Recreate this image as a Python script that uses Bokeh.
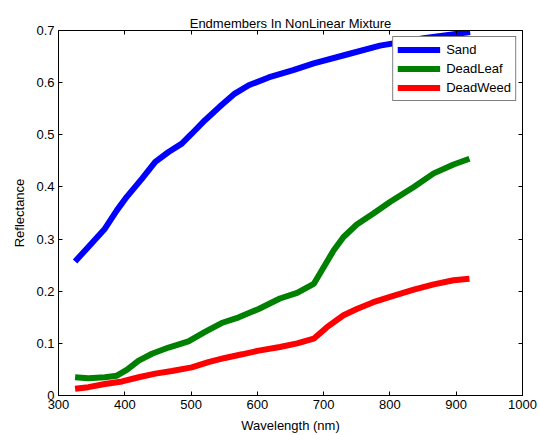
from bokeh.plotting import figure
from bokeh.models import LinearAxis, FixedTicker, Range1d, Legend, LegendItem
from bokeh.embed import file_html
from bokeh.resources import INLINE

# ---- data ----
wl_sand = [325, 345, 370, 388, 403, 426, 446, 466, 486, 501, 521, 546, 566, 587, 617, 654, 685, 735, 785, 851, 921]
sand = [0.257, 0.285, 0.320, 0.355, 0.381, 0.416, 0.448, 0.467, 0.483, 0.502, 0.528, 0.557, 0.579, 0.595, 0.610, 0.624, 0.637, 0.654, 0.671, 0.685, 0.697]

wl_leaf = [325, 345, 370, 388, 403, 421, 441, 466, 496, 521, 546, 572, 602, 634, 660, 685, 700, 715, 730, 750, 775, 800, 836, 866, 896, 920]
leaf = [0.035, 0.033, 0.035, 0.038, 0.049, 0.067, 0.080, 0.092, 0.104, 0.122, 0.139, 0.150, 0.166, 0.186, 0.197, 0.214, 0.246, 0.278, 0.304, 0.328, 0.349, 0.371, 0.400, 0.426, 0.443, 0.454]

wl_weed = [325, 345, 370, 396, 421, 446, 471, 501, 526, 551, 577, 602, 634, 660, 685, 705, 730, 750, 775, 805, 836, 866, 896, 920]
weed = [0.013, 0.016, 0.022, 0.027, 0.035, 0.042, 0.047, 0.054, 0.064, 0.072, 0.079, 0.086, 0.093, 0.100, 0.109, 0.131, 0.154, 0.166, 0.179, 0.191, 0.203, 0.213, 0.221, 0.224]

x_ticks = [300, 400, 500, 600, 700, 800, 900, 1000]
y_ticks = [0, 0.1, 0.2, 0.3, 0.4, 0.5, 0.6, 0.7]
y_tick_labels = ["0", "0.1", "0.2", "0.3", "0.4", "0.5", "0.6", "0.7"]

FONT = "Liberation Sans"
FS = "13px"

p = figure(width=540, height=435, frame_width=464, frame_height=365,
           output_backend="svg", toolbar_location=None,
           x_range=Range1d(300, 1000), y_range=Range1d(0, 0.7),
           min_border_left=58, min_border_right=18, min_border_top=30, min_border_bottom=40,
           title="Endmembers In NonLinear Mixture")
p.title.align = "center"
p.title.text_font = FONT
p.title.text_font_size = FS
p.title.text_font_style = "normal"
p.title.text_color = "black"
p.title.offset = 0
p.title.standoff = 0

p.xgrid.visible = False
p.ygrid.visible = False
p.outline_line_color = "black"
p.background_fill_color = "white"
p.border_fill_color = "white"

def style(ax, labels=True):
    ax.axis_line_color = "black"
    ax.major_tick_line_color = "black"
    ax.major_tick_in = 4
    ax.major_tick_out = 0
    ax.minor_tick_line_color = None
    ax.major_label_text_font = FONT
    ax.major_label_text_font_size = FS
    ax.major_label_text_color = "black"
    ax.axis_label_text_font = FONT
    ax.axis_label_text_font_size = FS
    ax.axis_label_text_font_style = "normal"
    ax.axis_label_text_color = "black"
    if not labels:
        ax.major_label_text_font_size = "1px"
        ax.major_label_text_color = None
        ax.major_label_standoff = 0

p.xaxis.ticker = FixedTicker(ticks=x_ticks)
p.yaxis.ticker = FixedTicker(ticks=y_ticks)
p.yaxis.major_label_overrides = {t: l for t, l in zip(y_ticks, y_tick_labels)}
p.xaxis.axis_label = "Wavelength (nm)"
p.yaxis.axis_label = "Reflectance"
style(p.xaxis[0])
style(p.yaxis[0])
p.xaxis.major_label_standoff = 4
p.yaxis.major_label_standoff = 4
p.xaxis.axis_label_standoff = 6
p.yaxis.axis_label_standoff = 6

top = LinearAxis(ticker=FixedTicker(ticks=x_ticks))
right = LinearAxis(ticker=FixedTicker(ticks=y_ticks))
style(top, False)
style(right, False)
p.add_layout(top, "above")
p.add_layout(right, "right")

r1 = p.line(wl_sand, sand, line_color="#0000ff", line_width=6)
r2 = p.line(wl_leaf, leaf, line_color="#008000", line_width=6)
r3 = p.line(wl_weed, weed, line_color="#ff0000", line_width=6)

legend = Legend(items=[LegendItem(label="Sand", renderers=[r1]),
                       LegendItem(label="DeadLeaf", renderers=[r2]),
                       LegendItem(label="DeadWeed", renderers=[r3])],
                location="top_right")
legend.margin = 6
legend.padding = 4
legend.spacing = 2
legend.glyph_width = 43
legend.glyph_height = 17
legend.label_height = 17
legend.label_standoff = 6
legend.label_text_font = FONT
legend.label_text_font_size = FS
legend.label_text_color = "black"
legend.border_line_color = "black"
legend.border_line_width = 1
legend.background_fill_color = "white"
legend.background_fill_alpha = 1
p.add_layout(legend, "center")

open("out.html", "w").write(file_html(p, INLINE))
